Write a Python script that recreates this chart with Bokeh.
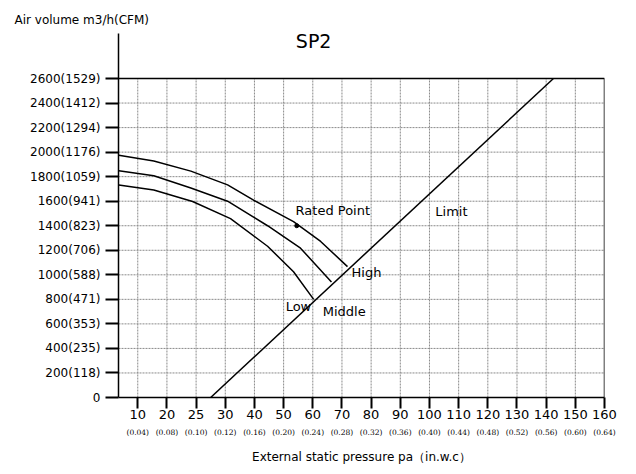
import numpy as np
from bokeh.plotting import figure
from bokeh.models import Range1d, FixedTicker, Label, LinearAxis
from bokeh.embed import file_html
from bokeh.resources import INLINE

# ---- data ----
pressure_ticks = [10, 20, 25, 30, 40, 50, 60, 70, 80, 90, 100, 110, 120, 130, 140, 150, 160]
inch_labels = ["(0.04)", "(0.08)", "(0.10)", "(0.12)", "(0.16)", "(0.20)", "(0.24)", "(0.28)",
               "(0.32)", "(0.36)", "(0.40)", "(0.44)", "(0.48)", "(0.52)", "(0.56)", "(0.60)", "(0.64)"]
air_ticks = [0, 200, 400, 600, 800, 1000, 1200, 1400, 1600, 1800, 2000, 2200, 2400, 2600]
cfm_labels = [None, 118, 235, 353, 471, 588, 706, 823, 941, 1059, 1176, 1294, 1412, 1529]

high_pa = [3.5, 15.5, 24.1, 30.8, 39.7, 53.4, 62.7, 71.9]
high_air = [1975, 1928, 1845, 1733, 1608, 1433, 1272, 1067]
mid_pa = [3.5, 15.5, 24.1, 30.8, 44.5, 55.8, 66.4]
mid_air = [1848, 1808, 1708, 1600, 1400, 1217, 942]
low_pa = [3.5, 15.5, 24.4, 31.8, 44.5, 53.4, 60.3]
low_air = [1733, 1692, 1598, 1458, 1233, 1025, 800]
limit_pa = [27.5, 142.5]
limit_air = [0, 2600]
rated_pa = [54.5]
rated_air = [1400]


def to_pos(pa):
    # the x axis is ordinal: each labelled pressure tick is one equal step
    return np.interp(pa, [0] + pressure_ticks, list(range(0, len(pressure_ticks) + 1)))


X0, X1 = 0.34, float(len(pressure_ticks))
FONT = "DejaVu Sans"

p = figure(width=636, height=474, output_backend="svg", toolbar_location=None,
           x_range=Range1d(X0, X1), y_range=Range1d(0, 2967),
           min_border_left=118, min_border_right=32, min_border_top=33, min_border_bottom=77)
p.outline_line_color = None
p.grid.visible = False
p.background_fill_color = "white"

# y-axis title as the plot title, moved to the left edge
p.title.text = "Air volume m3/h(CFM)"
p.title.align = "left"
p.title.offset = -104
p.title.text_font = FONT
p.title.text_font_size = "12px"
p.title.text_font_style = "normal"
p.title.text_color = "black"
p.title.standoff = 14

# x axis (pressure, Pa)
xa = p.xaxis[0]
xpos = list(range(1, len(pressure_ticks) + 1))
xa.ticker = FixedTicker(ticks=xpos)
xa.major_label_overrides = {i: str(t) for i, t in zip(xpos, pressure_ticks)}
xa.axis_line_width = 1.5
xa.axis_line_color = "black"
xa.major_tick_in = 0
xa.major_tick_out = 11
xa.major_tick_line_width = 2
xa.minor_tick_in = 0
xa.minor_tick_out = 0
xa.major_label_standoff = 1
xa.major_label_text_font = FONT
xa.major_label_text_font_size = "13px"
xa.major_label_text_color = "black"

# second x axis (in. w.c.) with the axis title
xa2 = LinearAxis(ticker=FixedTicker(ticks=xpos),
                 major_label_overrides={i: t for i, t in zip(xpos, inch_labels)})
xa2.axis_line_color = None
xa2.major_tick_line_color = None
xa2.minor_tick_line_color = None
xa2.major_tick_in = 0
xa2.major_tick_out = 0
xa2.minor_tick_in = 0
xa2.minor_tick_out = 0
xa2.major_label_standoff = 6
xa2.major_label_text_font = "DejaVu Serif"
xa2.major_label_text_font_size = "7.5px"
xa2.major_label_text_color = "black"
xa2.axis_label = "External static pressure pa（in.w.c）"
xa2.axis_label_text_font = FONT
xa2.axis_label_text_font_size = "12px"
xa2.axis_label_text_font_style = "normal"
xa2.axis_label_text_color = "black"
xa2.axis_label_standoff = 10
p.add_layout(xa2, "below")

# y axis (air volume)
ya = p.yaxis[0]
ya.ticker = FixedTicker(ticks=air_ticks)
ya.major_label_overrides = {a: (f"{a}({c})" if c is not None else str(a)) for a, c in zip(air_ticks, cfm_labels)}
ya.axis_line_width = 1.5
ya.axis_line_color = "black"
ya.major_tick_in = 0
ya.major_tick_out = 13
ya.major_tick_line_width = 2
ya.minor_tick_in = 0
ya.minor_tick_out = 0
ya.major_label_standoff = 5
ya.major_label_text_font = FONT
ya.major_label_text_font_size = "12px"
ya.major_label_text_color = "black"

# dashed grid from the tick arrays
vx = to_pos(pressure_ticks[:-1])
p.segment(x0=vx, y0=0, x1=vx, y1=air_ticks[-1], line_color="#8a8a8a", line_dash="2 1", line_width=1)
hy = air_ticks[1:-1]
p.segment(x0=X0, y0=hy, x1=X1, y1=hy, line_color="#8a8a8a", line_dash="2 1", line_width=1)
# top and right borders
p.line([X0, X1, X1], [air_ticks[-1], air_ticks[-1], 0], line_color="black", line_width=1.5)

# curves
for xs, ys in [(high_pa, high_air), (mid_pa, mid_air), (low_pa, low_air), (limit_pa, limit_air)]:
    p.line(to_pos(xs), ys, line_color="black", line_width=1.5)
p.scatter(to_pos(rated_pa), rated_air, size=4, color="black")

# annotations inside the chart
for txt, pa, air in [("Rated Point", 54.1, 1525), ("High", 73.3, 1017), ("Low", 50.7, 742),
                     ("Middle", 63.4, 700), ("Limit", 102, 1517)]:
    p.add_layout(Label(x=float(to_pos(pa)), y=air, text=txt, text_font=FONT, text_font_size="13px",
                       text_baseline="middle", text_align="left", text_color="black"))

p.add_layout(Label(x=float(to_pos(60.3)), y=2905, text="SP2", text_font=FONT, text_font_size="19px",
                   text_baseline="middle", text_align="center", text_color="black"))

open("out.html", "w").write(file_html(p, INLINE))
